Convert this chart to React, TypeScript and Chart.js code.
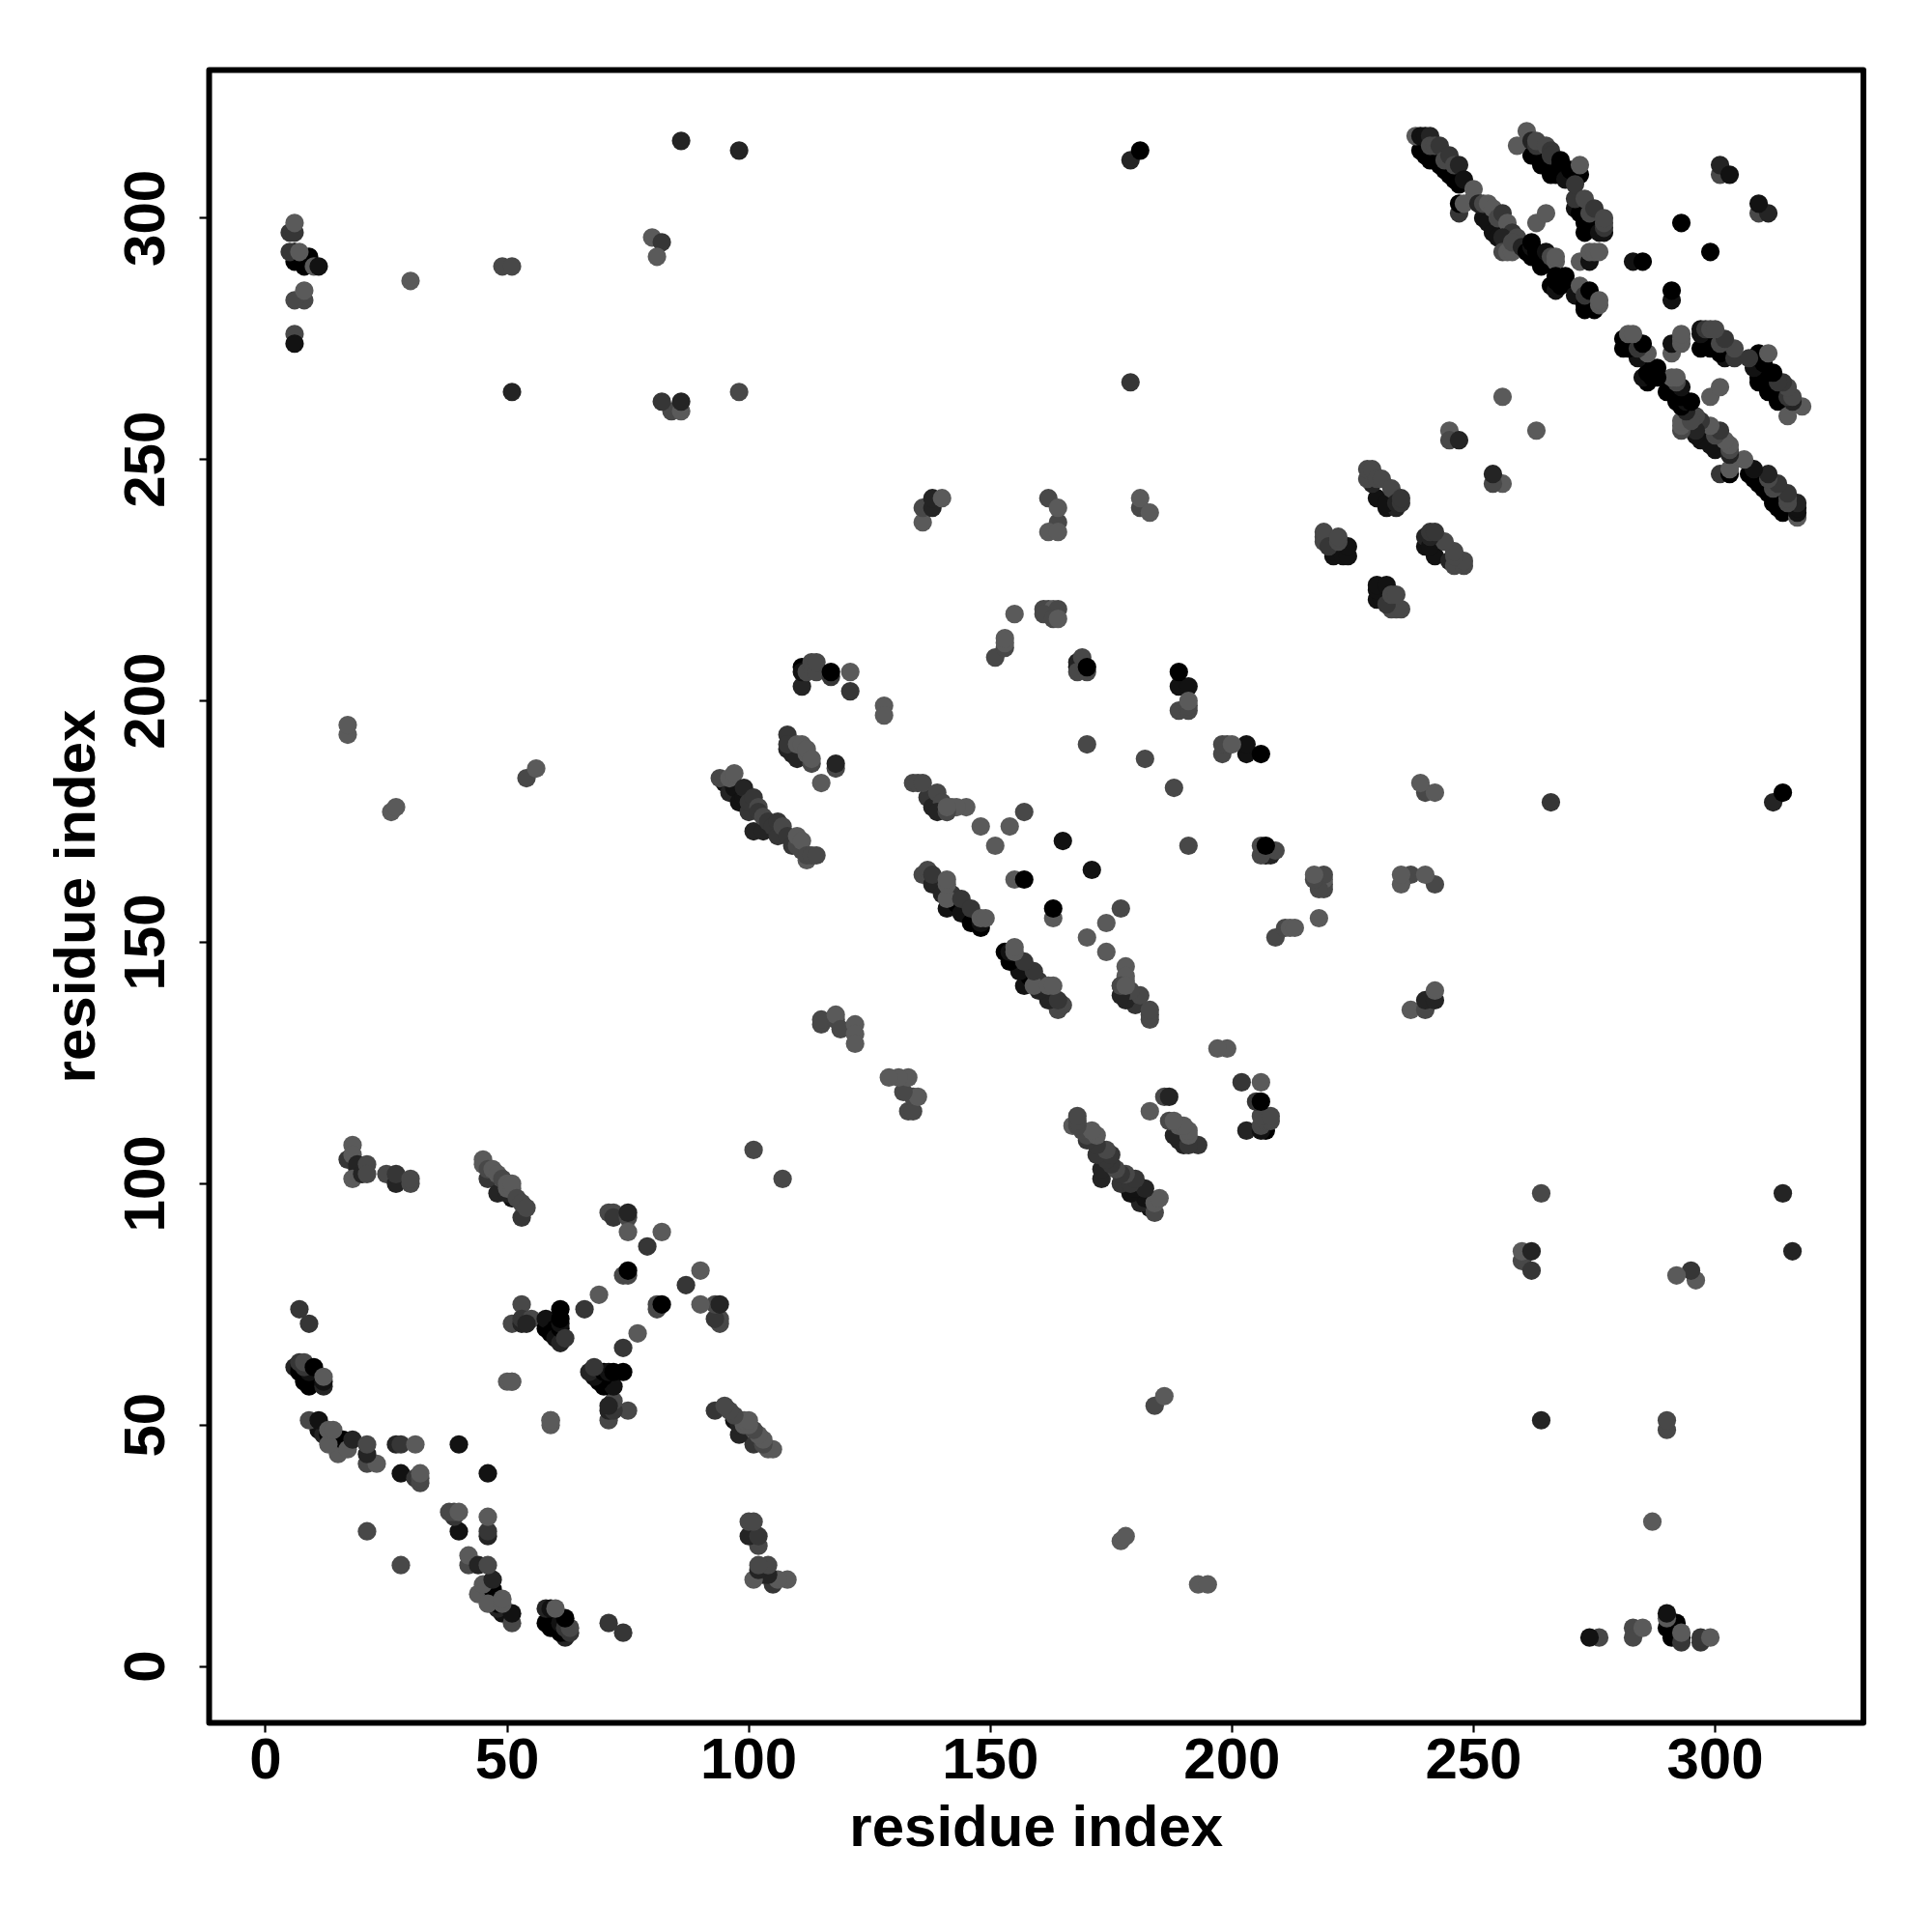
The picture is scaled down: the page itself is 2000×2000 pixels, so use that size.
import React, { useEffect, useRef } from "react";
import { Chart, registerables } from "chart.js";

Chart.register(...registerables);

// Each entry: [residue a, residue b, shade step 0..5]; the contact map is symmetric, so (b, a) is drawn too.
const nTerminalContacts = [
  [7,74,3],[9,71,3],[6,62,2],[7,62,1],[7,61,0],[8,60,0],[8,59,0],[9,58,0],[10,59,0],[10,60,0],[11,60,0],[9,61,1],[8,62,3],[7,63,3],[8,63,4],[10,62,0],[12,58,2],[12,59,1],[12,60,5],
  [11,49,1],[12,48,2],[9,51,4],[11,51,1],[13,48,0],[15,44,5],[14,47,3],[16,47,0],[13,46,5],[13,49,5],[14,49,5],[17,45,5],[18,47,2],[21,42,4],[23,42,5],[21,44,2],[21,46,4],
  [27,46,2],[28,46,3],[31,46,5],[40,46,1],[28,40,1],[31,39,3],[32,38,4],[32,39,4],[32,40,5],[21,28,4],[30,287,5],
];
const turnContacts = [
  [51,71,4],[53,71,2],[53,75,4],[53,72,3],[55,72,4],[54,71,2],[50,59,5],[51,59,5],[51,59,5],
  [58,70,0],[58,72,1],[59,69,0],[60,70,0],[60,68,1],[61,67,2],[61,70,0],[61,71,1],[61,72,0],[61,74,0],[62,68,3],
  [66,74,3],[69,77,5],[71,94,4],[72,94,4],[72,93,3],[75,93,4],[75,94,2],[75,90,5],[82,90,5],[79,87,3],[74,81,4],[75,81,4],[75,82,0],
];
const betaContacts = [
  [17,105,3],[19,103,2],[18,108,5],[18,106,5],[19,104,2],[18,101,5],[20,102,2],[21,104,4],[21,102,4],[25,102,4],[27,100,2],[27,102,3],[30,100,4],[30,101,4],
  [46,101,3],[48,98,2],[51,97,1],[53,93,3],[45,104,5],[45,105,5],[46,103,4],[47,103,5],[48,102,5],[49,101,4],[50,98,2],[50,99,5],[50,100,5],[51,99,5],[51,100,5],[52,97,4],[53,96,4],[54,95,4],
  [26,177,5],[27,178,5],[17,193,5],[17,195,5],[54,184,4],[56,186,5],[101,107,4],
];
const cTerminalLinks = [
  [6,291,0],[6,293,0],[9,292,0],[8,290,0],[5,293,3],[7,293,5],[10,290,5],[11,290,1],[5,297,3],[6,297,3],[6,299,5],[8,283,4],[6,283,4],[8,285,5],[6,276,4],[6,274,1],
  [49,290,4],[51,290,4],[80,296,5],[82,295,3],[81,292,5],[86,316,2],[98,314,2],[51,264,2],[98,264,4],[84,260,4],[86,260,5],[82,262,3],[86,262,2],
];
const domainBandA = [
  [95,183,1],[96,181,2],[97,182,1],[98,179,1],[99,180,1],[100,177,3],[101,173,2],[103,173,2],[94,184,4],[96,184,5],[97,185,5],[99,182,2],[100,179,3],[101,180,3],[102,178,4],[102,177,3],[103,176,4],[104,175,3],[105,174,3],[106,172,3],[106,175,3],[107,174,4],[108,172,3],[109,170,3],[110,170,4],[110,172,5],[111,169,4],[111,171,5],[112,167,5],[112,168,4],[113,168,4],[114,168,4],
  [111,207,0],[111,203,2],[111,206,1],[112,206,4],[113,207,4],[113,208,4],[114,206,4],[114,208,4],[117,205,3],[117,206,0],[121,206,5],[121,202,3],[128,199,5],[128,197,5],
  [108,190,2],[109,189,2],[110,188,2],[108,193,3],[108,191,3],[110,191,5],[111,191,5],[112,189,5],[112,190,5],[113,187,4],[113,188,5],[118,186,4],[118,187,2],[115,183,5],
  [115,133,4],[115,134,4],[118,134,4],[118,135,5],[119,132,4],[122,133,5],[122,131,5],[122,129,5],
];
const domainBandB = [
  [137,180,3],[138,178,2],[134,183,4],[135,183,4],[136,183,4],[139,181,4],[140,179,4],[141,177,5],[142,178,5],[145,178,5],[143,178,5],[139,177,2],[141,177,4],[141,178,5],
  [148,174,5],[154,174,5],[157,177,4],[151,170,5],[165,171,1],[155,163,5],[157,163,0],
  [141,157,1],[143,158,0],[144,157,0],[144,156,1],[146,154,0],[148,153,0],[148,154,1],[136,164,4],[137,165,4],[138,162,2],[139,162,2],[138,164,3],[140,160,2],[142,160,3],[141,159,5],[141,162,5],[141,163,5],[144,159,3],[146,157,3],[148,155,5],[149,155,5],
  [168,207,1],[168,208,2],[169,209,4],[168,206,4],[170,206,4],[170,207,0],
  [189,198,4],[191,198,4],[191,199,4],[189,203,1],[191,203,1],[189,206,0],[191,200,5],[170,191,4],[182,188,4],
  [161,219,4],[162,219,4],[163,219,5],[164,219,4],[161,218,4],[163,217,4],[164,217,5],
  [151,209,4],[153,211,4],[153,212,5],[153,213,5],[155,218,5],
  [164,237,4],[162,242,4],[164,240,5],[162,235,5],[164,235,5],[136,237,5],[136,240,4],[138,240,2],[138,242,2],[140,242,5],[181,240,4],[181,242,5],[183,239,5],[179,312,2],[181,314,0],[179,266,3],
];
const helixBandsA = [
  [221,230,1],[221,231,1],[223,230,1],[224,230,1],[224,232,1],[219,233,4],[219,234,4],[219,235,4],[220,232,3],[222,233,4],[222,234,4],
  [230,242,1],[232,240,1],[229,245,2],[234,240,2],[232,241,1],[228,246,4],[228,248,4],[229,248,4],[230,246,4],[231,246,4],[233,244,4],[234,241,2],[235,241,3],[235,242,3],
  [245,256,5],[245,254,4],[247,254,2],[256,263,5],[263,299,5],[265,301,5],
];
const helixBandsB = [
  [239,314,0],[240,313,0],[241,312,0],[242,312,0],[243,311,0],[244,310,0],[245,309,0],[246,308,0],[247,307,0],[238,317,5],[239,317,1],[240,317,1],[241,317,2],[241,315,4],[242,315,4],[243,315,3],[244,312,4],[245,313,3],[246,311,4],[247,311,2],[248,308,1],[247,301,3],[247,303,0],[250,304,4],[248,303,5],[250,306,5],
  [252,300,1],[253,299,1],[254,297,1],[255,296,1],[251,303,2],[252,303,4],[253,303,5],[254,302,5],[255,300,4],[256,301,3],[257,299,5],[258,297,3],[256,296,2],[256,293,4],[257,293,5],[258,293,5],[259,296,4],[258,295,4],[260,294,2],
  [261,293,0],[262,292,0],[262,294,1],[262,295,0],[263,293,0],[264,290,0],[265,291,0],[265,293,1],[266,292,4],[267,291,5],[267,292,5],
  [266,286,0],[267,285,1],[267,287,0],[267,288,0],[268,286,0],[269,287,0],[269,288,0],[271,284,1],[273,282,0],[273,281,0],[275,281,0],[272,286,5],[273,284,3],[274,285,0],[276,282,5],[276,283,5],
];
const helixBandsC = [
  [262,313,0],[264,311,0],[265,312,0],[263,313,0],[259,315,5],[261,318,5],[262,316,2],[263,315,3],[263,316,4],[265,315,4],[266,314,3],[266,309,0],[266,313,3],[268,311,0],[268,312,0],[267,309,0],[269,308,1],[270,310,0],[272,309,0],[272,311,5],
  [271,302,1],[272,301,0],[273,297,0],[273,299,0],[274,300,0],[275,298,0],[276,297,1],[271,304,3],[271,307,3],[273,304,4],[274,301,4],[275,302,3],[277,297,1],[277,298,3],[277,299,4],[277,300,4],
  [272,291,5],[274,291,1],[274,293,5],[275,293,5],[276,293,5],[283,291,1],[285,291,0],[293,299,0],[301,309,4],[301,311,2],[303,309,1],
];

const contactBlocks = [nTerminalContacts, turnContacts, betaContacts, cTerminalLinks, domainBandA, domainBandB, helixBandsA, helixBandsB, helixBandsC];
const axisTicks = [0, 50, 100, 150, 200, 250, 300];
const axisTitle = "residue index";
const inkColor = "#000000";
const fontFamily = "'Liberation Sans', Arial, sans-serif";
const labelFont = `bold 60px ${fontFamily}`;

const points: { x: number; y: number }[] = [];
const colours: string[] = [];
for (const block of contactBlocks) {
  for (const [a, b, s] of block) {
    const g = s * 18;
    const c = `rgb(${g},${g},${g})`;
    points.push({ x: a, y: b });
    colours.push(c);
    points.push({ x: b, y: a });
    colours.push(c);
  }
}

const frameAndLabels = {
  id: "frameAndLabels",
  afterDatasetsDraw(chart: any) {
    const { ctx, chartArea, scales } = chart;
    ctx.save();
    ctx.strokeStyle = inkColor;
    ctx.lineWidth = 6;
    ctx.lineJoin = "round";
    ctx.strokeRect(chartArea.left, chartArea.top, chartArea.right - chartArea.left, chartArea.bottom - chartArea.top);
    ctx.fillStyle = inkColor;
    ctx.font = labelFont;
    ctx.textAlign = "center";
    ctx.textBaseline = "alphabetic";
    for (const v of axisTicks) {
      ctx.save();
      ctx.translate(170, scales.y.getPixelForValue(v));
      ctx.rotate(-Math.PI / 2);
      ctx.fillText(String(v), 0, 0);
      ctx.restore();
    }
    ctx.restore();
  },
};

export default function App() {
  const ref = useRef<HTMLCanvasElement | null>(null);
  useEffect(() => {
    document.body.style.margin = "0";
    document.body.style.background = "#ffffff";
    const fixTicks = (axis: any) => {
      axis.ticks = axisTicks.map((value) => ({ value }));
    };
    const chart = new Chart(ref.current as HTMLCanvasElement, {
      type: "scatter",
      data: {
        datasets: [
          {
            data: points,
            backgroundColor: colours,
            borderWidth: 0,
            pointRadius: 9.6,
            pointHoverRadius: 9.6,
            clip: false,
          } as any,
        ],
      },
      plugins: [frameAndLabels],
      options: {
        responsive: false,
        animation: false,
        devicePixelRatio: 1,
        layout: { padding: { top: 72.5, right: 71, left: 0, bottom: 0 } },
        plugins: { legend: { display: false }, tooltip: { enabled: false } },
        scales: {
          x: {
            type: "linear",
            min: -11.68,
            max: 330.68,
            afterBuildTicks: fixTicks,
            afterFit: (s: any) => {
              s.height = 216.5;
            },
            grid: { drawOnChartArea: false, drawTicks: true, tickLength: 10, tickWidth: 2.2, tickColor: inkColor },
            border: { display: false },
            ticks: { color: inkColor, font: { family: fontFamily, size: 60, weight: "bold" }, padding: -5, maxRotation: 0, minRotation: 0, autoSkip: false, callback: (v: any) => String(v) },
            title: { display: true, text: axisTitle, color: inkColor, font: { family: fontFamily, size: 60, weight: "bold", lineHeight: 1 }, padding: { top: 0, bottom: 76 } },
          },
          y: {
            type: "linear",
            min: -11.68,
            max: 330.68,
            afterBuildTicks: fixTicks,
            afterFit: (s: any) => {
              s.width = 216.5;
            },
            grid: { drawOnChartArea: false, drawTicks: true, tickLength: 10, tickWidth: 2.2, tickColor: inkColor },
            border: { display: false },
            ticks: { display: false },
            title: { display: true, text: axisTitle, color: inkColor, font: { family: fontFamily, size: 60, weight: "bold", lineHeight: 1 }, padding: { top: 51, bottom: 0 } },
          },
        },
      } as any,
    });
    return () => chart.destroy();
  }, []);
  return <canvas ref={ref} width={2000} height={2000} style={{ display: "block", width: 2000, height: 2000 }} />;
}
